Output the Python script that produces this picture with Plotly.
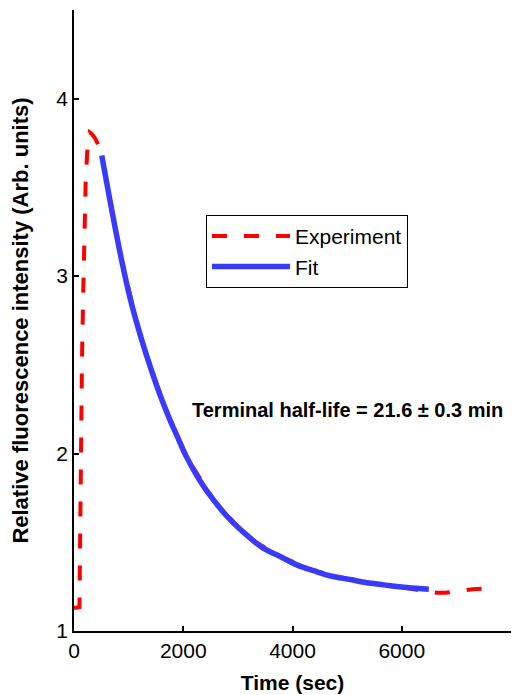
import plotly.graph_objects as go

# Experiment (red dashed)
exp_t = [0, 60, 100, 112, 123, 145, 166, 196, 215, 250, 288, 330, 380, 430, 503,
         650, 838, 1145, 1450, 1756, 2062, 2550, 3163, 3774, 4386, 5059, 5670,
         6100, 6500, 6650, 6800, 6950, 7110, 7300, 7500, 7700]
exp_v = [1.13, 1.13, 1.135, 1.5, 2.0, 2.5, 2.87, 3.36, 3.55, 3.74, 3.81, 3.80, 3.78, 3.75, 3.69,
         3.44, 3.14, 2.74, 2.44, 2.19, 1.98, 1.74, 1.53, 1.42, 1.34, 1.29, 1.26,
         1.24, 1.222, 1.215, 1.215, 1.222, 1.231, 1.235, 1.238, 1.24]

# Fit (blue solid)
fit_t = [508, 650, 838, 1000, 1145, 1300, 1450, 1600, 1756, 1900, 2062, 2300, 2550,
         2850, 3163, 3450, 3774, 4100, 4386, 4700, 5059, 5400, 5670, 6100, 6496]
fit_v = [3.68, 3.44, 3.14, 2.91, 2.74, 2.58, 2.44, 2.31, 2.19, 2.09, 1.98, 1.85, 1.74,
         1.63, 1.54, 1.47, 1.42, 1.37, 1.34, 1.31, 1.29, 1.27, 1.26, 1.245, 1.235]

x_ticks = [0, 2000, 4000, 6000, 8000]
y_ticks = [1, 2, 3, 4]

FONT = "Liberation Sans, Arial, sans-serif"

fig = go.Figure()
fig.add_trace(go.Scatter(
    x=exp_t, y=exp_v, mode="lines", name="Experiment",
    line=dict(color="#ff0000", width=4, dash="15px,17px"),
))
fig.add_trace(go.Scatter(
    x=fit_t, y=fit_v, mode="lines", name="Fit",
    line=dict(color="#3a3aff", width=5.5, shape="spline"),
))

fig.add_annotation(
    x=5013, y=2.246, xref="x", yref="y", showarrow=False,
    text="Terminal half-life = 21.6 ± 0.3 min",
    font=dict(family=FONT, size=20, color="black", weight="bold"),
)

fig.update_layout(
    width=522, height=695,
    margin=dict(l=74, r=11, t=10, b=64),
    paper_bgcolor="white", plot_bgcolor="white",
    font=dict(family=FONT, color="black"),
    showlegend=True,
    legend=dict(
        x=0.302, y=0.67, xanchor="left", yanchor="top",
        bgcolor="white", bordercolor="black", borderwidth=1,
        font=dict(family=FONT, size=21, color="black"),
        itemwidth=78,
    ),
    xaxis=dict(
        range=[0, 8000], tickvals=x_ticks, ticktext=[str(v) for v in x_ticks],
        ticks="inside", ticklen=5, tickcolor="black", tickwidth=1.5,
        showline=True, linecolor="black", linewidth=1.5,
        showgrid=False, zeroline=False, automargin=False,
        tickfont=dict(family=FONT, size=21, color="black"),
        title=dict(text="Time (sec)", font=dict(family=FONT, size=21, color="black", weight="bold"),
                   standoff=14),
    ),
    yaxis=dict(
        range=[1, 4.5], tickvals=y_ticks, ticktext=[str(v) for v in y_ticks],
        ticks="inside", ticklen=5, tickcolor="black", tickwidth=1.5,
        showline=True, linecolor="black", linewidth=1.5,
        showgrid=False, zeroline=False, automargin=False,
        tickfont=dict(family=FONT, size=21, color="black"),
        title=dict(text="Relative fluorescence intensity (Arb. units)",
                   font=dict(family=FONT, size=22, color="black", weight="bold"),
                   standoff=22),
    ),
)

fig.write_html("out.html", config={"displayModeBar": False},
               post_script="document.body.style.margin='0';")
